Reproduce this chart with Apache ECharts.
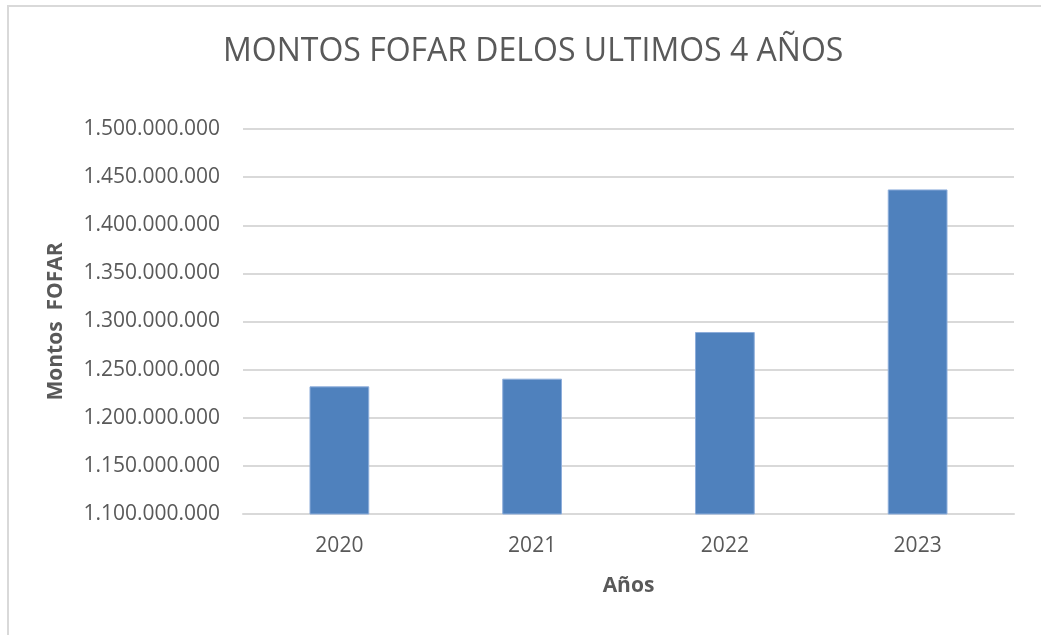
<!DOCTYPE html>
<html>
<head>
    <meta charset="utf-8">
    <title>Montos FOFAR</title>
    <script src="https://cdn.jsdelivr.net/npm/echarts@6/dist/echarts.min.js"></script>
    <style>
        html, body { margin: 0; padding: 0; background: #fff; }
        #main { width: 1041px; height: 635px; }
    </style>
</head>
<body>
    <div id="main"></div>
    <script type="text/javascript">
        // datos
        var years = ['2020', '2021', '2022', '2023'];
        var montos = [1232600000, 1240600000, 1289100000, 1437200000];
        var yMin = 1100000000;
        var yMax = 1500000000;
        var yStep = 50000000;

        // 1500000000 -> 1.500.000.000
        function miles(v) {
            return String(Math.round(v)).replace(/\B(?=(\d{3})+(?!\d))/g, '.');
        }

        var myChart = echarts.init(document.getElementById('main'));
        myChart.setOption({
            animation: false,
            textStyle: { fontFamily: 'Open Sans' },
            title: {
                text: 'MONTOS FOFAR DELOS ULTIMOS 4 AÑOS',
                left: 218,
                top: 31,
                textStyle: { fontFamily: 'Open Sans', fontSize: 32, fontWeight: 'normal', color: '#595959' }
            },
            // marco del area del grafico
            graphic: [{
                type: 'rect',
                shape: { x: 8, y: 6, width: 1060, height: 660 },
                style: { fill: 'none', stroke: '#d9d9d9', lineWidth: 2 },
                silent: true
            }],
            grid: { left: 243, right: 27, top: 129, bottom: 121 },
            xAxis: {
                type: 'category',
                data: years,
                axisTick: { show: false },
                axisLine: { lineStyle: { color: '#d9d9d9', width: 2 } },
                axisLabel: { color: '#595959', fontSize: 21, margin: 22 },
                name: 'Años',
                nameLocation: 'middle',
                nameGap: 62,
                nameTextStyle: { color: '#595959', fontSize: 21, fontWeight: 'bold' }
            },
            yAxis: {
                type: 'value',
                min: yMin,
                max: yMax,
                interval: yStep,
                axisLine: { show: false },
                axisTick: { show: false },
                splitLine: { lineStyle: { color: '#d9d9d9', width: 2 } },
                axisLabel: { color: '#595959', fontSize: 21, margin: 23, formatter: miles },
                name: 'Montos  FOFAR',
                nameLocation: 'middle',
                nameRotate: 90,
                nameGap: 176,
                nameTextStyle: { color: '#595959', fontSize: 21, fontWeight: 'bold' }
            },
            series: [{
                name: 'Montos FOFAR',
                type: 'bar',
                data: montos,
                barWidth: '31%',
                itemStyle: { color: '#4f81bd', borderColor: '#8eaedb', borderWidth: 1 }
            }]
        });
    </script>
</body>
</html>
